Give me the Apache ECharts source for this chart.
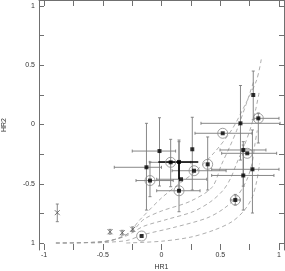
<!DOCTYPE html>
<html><head><meta charset="utf-8">
<script src="https://cdn.jsdelivr.net/npm/echarts@6/dist/echarts.min.js"></script>
<style>html,body{margin:0;padding:0;background:#fff}#c{width:285px;height:271px}</style>
</head><body><div id="c"></div><script>
// ---- data ----
const tickVals = [-1, -0.75, -0.5, -0.25, 0, 0.25, 0.5, 0.75, 1];
const labelVals = [-1, -0.5, 0, 0.5, 1];

// filled square points [HR1, HR2]
const squares = [[0.781,0.249],[0.824,0.052],[0.672,0.010],[0.521,-0.074],[0.696,-0.215],[0.730,-0.243],[0.696,-0.430],[0.774,-0.378],[0.628,-0.637],[0.393,-0.336],[0.262,-0.209],[0.277,-0.390],[0.149,-0.316],[0.166,-0.462],[0.078,-0.319],[-0.017,-0.224],[0.149,-0.559],[-0.098,-0.473],[-0.128,-0.361],[-0.169,-0.941]];
// circled points
const circled = [[0.824,0.052],[0.521,-0.074],[0.730,-0.243],[0.628,-0.637],[0.393,-0.336],[0.277,-0.390],[0.078,-0.319],[0.149,-0.559],[-0.098,-0.473],[-0.169,-0.941]];
// cross points
const crosses = [[-0.887,-0.744],[-0.438,-0.905],[-0.334,-0.913],[-0.245,-0.884]];
// error bars: [x, y, xlo, xhi, ylo, yhi]
const errBars = [
 [0.781,0.249,null,null,0.04,0.451],
 [0.824,0.052,0.787,1.0,-0.156,0.097],
 [0.672,0.010,0.336,1.009,-0.30,0.329],
 [0.521,-0.074,0.285,0.770,null,null],
 [0.696,-0.215,0.498,0.889,-0.52,-0.145],
 [0.730,-0.243,0.512,0.980,null,null],
 [0.696,-0.430,0.427,0.957,-0.722,-0.173],
 [0.774,-0.378,0.427,1.0,-0.747,-0.046],
 [0.628,-0.637,0.59,0.67,-0.68,-0.59],
 [0.393,-0.336,null,null,-0.553,-0.105],
 [0.262,-0.209,null,null,-0.553,0.061],
 [0.277,-0.390,0.09,0.55,null,null],
 [0.149,-0.316,null,null,-0.55,-0.145],
 [0.166,-0.462,-0.041,0.385,null,null],
 [0.078,-0.319,-0.1,0.25,-0.525,-0.125],
 [-0.017,-0.224,-0.249,0.12,-0.519,0.057],
 [0.149,-0.559,-0.041,0.328,-0.736,-0.131],
 [-0.098,-0.473,-0.217,0.1,-0.609,-0.316],
 [-0.128,-0.361,-0.402,0.0,-0.722,0.01],
 [-0.887,-0.744,null,null,-0.82,-0.671],
 [-0.438,-0.905,null,null,-0.925,-0.885],
 [-0.334,-0.913,null,null,-0.933,-0.893],
 [-0.245,-0.884,null,null,-0.904,-0.864]
];
// bold error bars
const boldBars = [[0.149,-0.316,-0.027,0.313,-0.462,-0.316]];
// model curves
const curveE = [[-0.9,-1.0],[-0.5,-0.99],[-0.3,-0.93],[-0.18,-0.80],[0.0,-0.62],[0.15,-0.50],[0.285,-0.40],[0.455,-0.23],[0.597,-0.046],[0.711,0.165],[0.81,0.376],[0.853,0.572]];
const curveA = [[-0.898,-1.0],[-0.6,-0.995],[-0.4,-0.97],[-0.25,-0.9],[-0.15,-0.80],[0.0,-0.73],[0.24,-0.65],[0.43,-0.53],[0.51,-0.34],[0.58,-0.19],[0.64,-0.05],[0.72,0.17],[0.79,0.38]];
const curveB = [[-0.898,-1.0],[-0.5,-0.99],[-0.3,-0.94],[-0.155,-0.86],[0.05,-0.80],[0.27,-0.735],[0.42,-0.65],[0.526,-0.553],[0.59,-0.45],[0.64,-0.327],[0.70,-0.19],[0.753,-0.046],[0.80,0.12],[0.832,0.277]];
const curveC = [[-0.6,-1.0],[-0.3,-0.98],[-0.155,-0.93],[0.1,-0.87],[0.385,-0.79],[0.53,-0.71],[0.64,-0.61],[0.725,-0.47],[0.77,-0.33],[0.796,-0.16],[0.815,-0.05]];
const curveD = [[-0.3,-1.0],[0.0,-0.985],[0.25,-0.95],[0.45,-0.89],[0.6,-0.82],[0.7,-0.73],[0.77,-0.62],[0.81,-0.48],[0.835,-0.33]];

// ---- chart ----
const FONT = 'Liberation Sans';
const AX = '#707070';
function ok(v){ return v != null && !isNaN(v); }
function makeBars(color, width, capLen) {
  return function (params, api) {
    const x = api.value(0), y = api.value(1);
    const xlo = api.value(2), xhi = api.value(3), ylo = api.value(4), yhi = api.value(5);
    const ch = [];
    const st = { stroke: color, lineWidth: width };
    if (ok(xlo) && ok(xhi)) {
      const a = api.coord([xlo, y]), b = api.coord([xhi, y]);
      ch.push({ type: 'line', shape: { x1: a[0], y1: a[1], x2: b[0], y2: b[1] }, style: st });
      if (capLen) {
        ch.push({ type: 'line', shape: { x1: a[0], y1: a[1]-capLen, x2: a[0], y2: a[1]+capLen }, style: st });
        ch.push({ type: 'line', shape: { x1: b[0], y1: b[1]-capLen, x2: b[0], y2: b[1]+capLen }, style: st });
      }
    }
    if (ok(ylo) && ok(yhi)) {
      const a = api.coord([x, ylo]), b = api.coord([x, yhi]);
      ch.push({ type: 'line', shape: { x1: a[0], y1: a[1], x2: b[0], y2: b[1] }, style: st });
      if (capLen) {
        ch.push({ type: 'line', shape: { x1: a[0]-capLen, y1: a[1], x2: a[0]+capLen, y2: a[1] }, style: st });
        ch.push({ type: 'line', shape: { x1: b[0]-capLen, y1: b[1], x2: b[0]+capLen, y2: b[1] }, style: st });
      }
    }
    return { type: 'group', children: ch };
  };
}
function curve(data) {
  return { type: 'line', data: data, showSymbol: false, symbol: 'none', smooth: 0.3, silent: true,
    lineStyle: { color: '#999', width: 0.8, type: [4, 3] }, z: 1 };
}
const labelStyle = { fontSize: 7, color: '#333', fontFamily: FONT };
const chart = echarts.init(document.getElementById('c'), null, { renderer: 'canvas' });
chart.setOption({
  animation: false,
  backgroundColor: '#fff',
  grid: { left: 39, right: 1, top: 0, bottom: 21, outerBoundsMode: 'none' },
  xAxis: [
    { type: 'value', min: -1.0426, max: 1.0426, position: 'bottom',
      axisLine: { show: false, onZero: false }, splitLine: { show: false },
      axisTick: { show: true, inside: true, length: 6, customValues: tickVals, lineStyle: { color: AX } },
      axisLabel: Object.assign({ customValues: labelVals, margin: 2, formatter: v => String(v) }, labelStyle),
      name: 'HR1', nameLocation: 'middle', nameGap: 10,
      nameTextStyle: { fontSize: 7, color: '#333', fontFamily: FONT } },
    { type: 'value', min: -1.0426, max: 1.0426, position: 'top',
      axisLine: { show: true, onZero: false, lineStyle: { color: AX, width: 1 } }, splitLine: { show: false },
      axisTick: { show: true, inside: true, length: 6, customValues: tickVals, lineStyle: { color: AX } },
      axisLabel: { show: false } }
  ],
  yAxis: [
    { type: 'value', min: -1.059, max: 1.0506, position: 'left',
      axisLine: { show: true, onZero: false, lineStyle: { color: AX, width: 1 } }, splitLine: { show: false },
      axisTick: { show: true, inside: true, length: 5, customValues: tickVals, lineStyle: { color: AX } },
      axisLabel: Object.assign({ customValues: labelVals, margin: 4, formatter: v => (v === -1 ? '1' : String(v)) }, labelStyle),
      name: 'HR2', nameLocation: 'middle', nameRotate: 90, nameGap: 31,
      nameTextStyle: { fontSize: 7, color: '#333', fontFamily: FONT } },
    { type: 'value', min: -1.059, max: 1.0506, position: 'right',
      axisLine: { show: true, onZero: false, lineStyle: { color: AX, width: 1 } }, splitLine: { show: false },
      axisTick: { show: true, inside: true, length: 5, customValues: tickVals, lineStyle: { color: AX } },
      axisLabel: { show: false } }
  ],
  series: [
    curve(curveE), curve(curveA), curve(curveB), curve(curveC), curve(curveD),
    { type: 'custom', data: errBars, renderItem: makeBars('#7a7a7a', 0.9, 1.5), encode: { x: 0, y: 1 }, silent: true, z: 2 },
    { type: 'custom', data: boldBars, renderItem: makeBars('#000', 1.6, 0), encode: { x: 0, y: 1 }, silent: true, z: 3 },
    { type: 'scatter', data: circled, symbol: 'circle', symbolSize: 10, silent: true, z: 4,
      itemStyle: { color: 'rgba(0,0,0,0)', borderColor: '#888', borderWidth: 1 } },
    { type: 'scatter', data: crosses, symbol: 'path://M0 0L10 10M10 0L0 10', symbolSize: 5, silent: true, z: 4,
      itemStyle: { color: 'rgba(0,0,0,0)', borderColor: '#555', borderWidth: 1 } },
    { type: 'scatter', data: squares, symbol: 'rect', symbolSize: 4, silent: true, z: 5,
      itemStyle: { color: '#000' } }
  ]
});
</script></body></html>
